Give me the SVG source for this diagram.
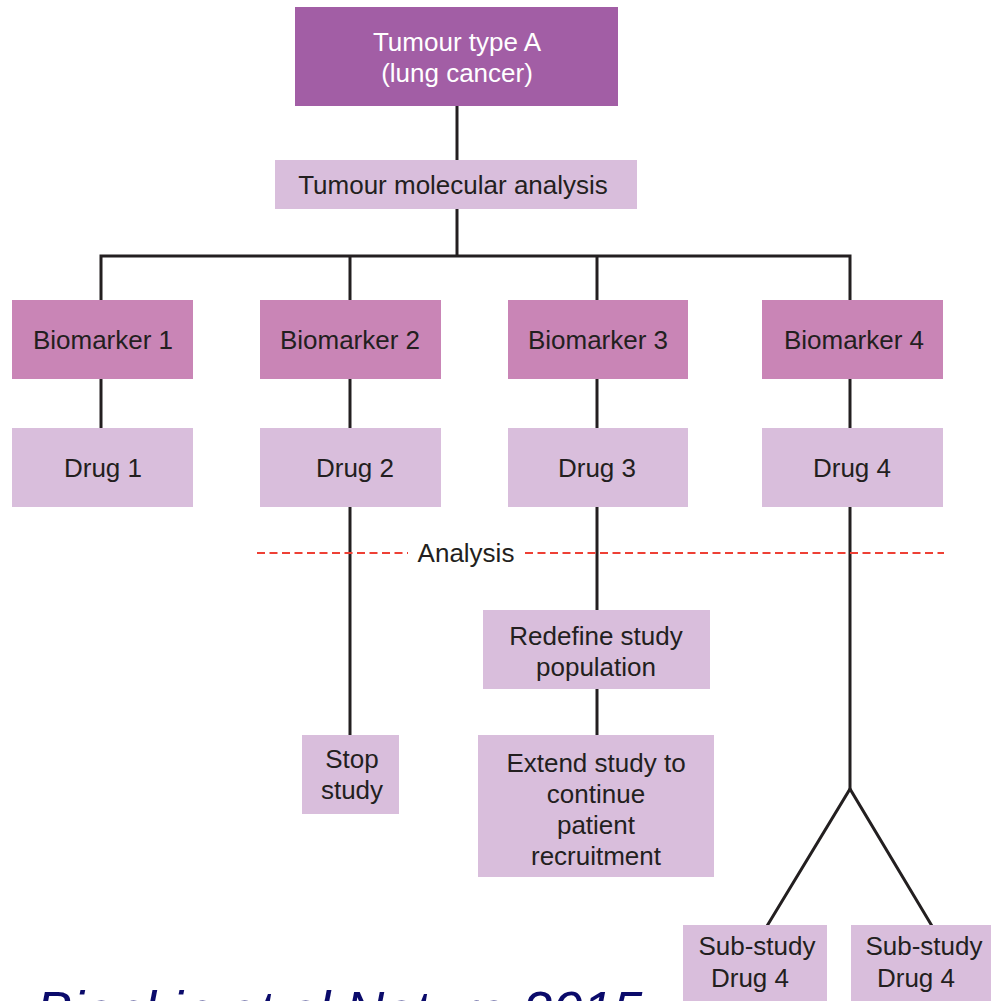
<svg xmlns="http://www.w3.org/2000/svg" width="991" height="1001" viewBox="0 0 991 1001">
<style>
.dark{fill:#a25ea5}
.mid{fill:#c985b6}
.light{fill:#d9bedc}
text{font-family:"Liberation Sans",Arial,sans-serif;font-size:26px;fill:#231f20;text-anchor:middle}
.w{fill:#ffffff}
.ln{stroke:#231f20;stroke-width:3;fill:none}
.dash{stroke:#ee4035;stroke-width:2;stroke-dasharray:8 4.5;fill:none}
.cite{font-style:italic;font-size:54px;fill:#0b0b6b;text-anchor:start}
</style>
<rect width="991" height="1001" fill="#ffffff"/>
<g id="connectors">
<line class="ln" x1="457" y1="106" x2="457" y2="160"/>
<line class="ln" x1="457" y1="209" x2="457" y2="256"/>
<polyline class="ln" points="101,300 101,256 850,256 850,300"/>
<line class="ln" x1="350" y1="256" x2="350" y2="300"/>
<line class="ln" x1="597" y1="256" x2="597" y2="300"/>
<line class="ln" x1="101" y1="379" x2="101" y2="428"/>
<line class="ln" x1="350" y1="379" x2="350" y2="428"/>
<line class="ln" x1="597" y1="379" x2="597" y2="428"/>
<line class="ln" x1="850" y1="379" x2="850" y2="428"/>
<line class="ln" x1="350" y1="507" x2="350" y2="735"/>
<line class="ln" x1="597" y1="507" x2="597" y2="610"/>
<line class="ln" x1="597" y1="689" x2="597" y2="735"/>
<polyline class="ln" points="767,926 850,789 932,926"/>
<line class="ln" x1="850" y1="507" x2="850" y2="789"/>
<line class="dash" x1="257" y1="553" x2="408" y2="553"/>
<line class="dash" x1="525" y1="553" x2="944" y2="553"/>
<text x="466" y="562">Analysis</text>
</g>
<g id="tumour-type">
<rect class="dark" x="295" y="7" width="323" height="99"/>
<text class="w" x="457" y="51">Tumour type A</text>
<text class="w" x="457" y="82">(lung cancer)</text>
</g>
<g id="molecular-analysis">
<rect class="light" x="275" y="160" width="362" height="49"/>
<text x="453" y="194">Tumour molecular analysis</text>
</g>
<g id="biomarker1"><rect class="mid" x="12" y="300" width="181" height="79"/><text x="103" y="349">Biomarker 1</text></g>
<g id="biomarker2"><rect class="mid" x="260" y="300" width="181" height="79"/><text x="350" y="349">Biomarker 2</text></g>
<g id="biomarker3"><rect class="mid" x="508" y="300" width="180" height="79"/><text x="598" y="349">Biomarker 3</text></g>
<g id="biomarker4"><rect class="mid" x="762" y="300" width="181" height="79"/><text x="854" y="349">Biomarker 4</text></g>
<g id="drug1"><rect class="light" x="12" y="428" width="181" height="79"/><text x="103" y="477">Drug 1</text></g>
<g id="drug2"><rect class="light" x="260" y="428" width="181" height="79"/><text x="355" y="477">Drug 2</text></g>
<g id="drug3"><rect class="light" x="508" y="428" width="180" height="79"/><text x="597" y="477">Drug 3</text></g>
<g id="drug4"><rect class="light" x="762" y="428" width="181" height="79"/><text x="852" y="477">Drug 4</text></g>
<g id="stop-study">
<rect class="light" x="302" y="735" width="97" height="79"/>
<text x="352" y="768">Stop</text>
<text x="352" y="799">study</text>
</g>
<g id="redefine">
<rect class="light" x="483" y="610" width="227" height="79"/>
<text x="596" y="645">Redefine study</text>
<text x="596" y="676">population</text>
</g>
<g id="extend">
<rect class="light" x="478" y="735" width="236" height="142"/>
<text x="596" y="772">Extend study to</text>
<text x="596" y="803">continue</text>
<text x="596" y="834">patient</text>
<text x="596" y="865">recruitment</text>
</g>
<g id="substudy-left">
<rect class="light" x="683" y="925" width="144" height="80"/>
<text x="757" y="955">Sub-study</text>
<text x="750" y="987">Drug 4</text>
</g>
<g id="substudy-right">
<rect class="light" x="851" y="925" width="145" height="80"/>
<text x="924" y="955">Sub-study</text>
<text x="916" y="987">Drug 4</text>
</g>
<text class="cite" x="36" y="1029">Biankin et al Nature 2015</text>
</svg>
